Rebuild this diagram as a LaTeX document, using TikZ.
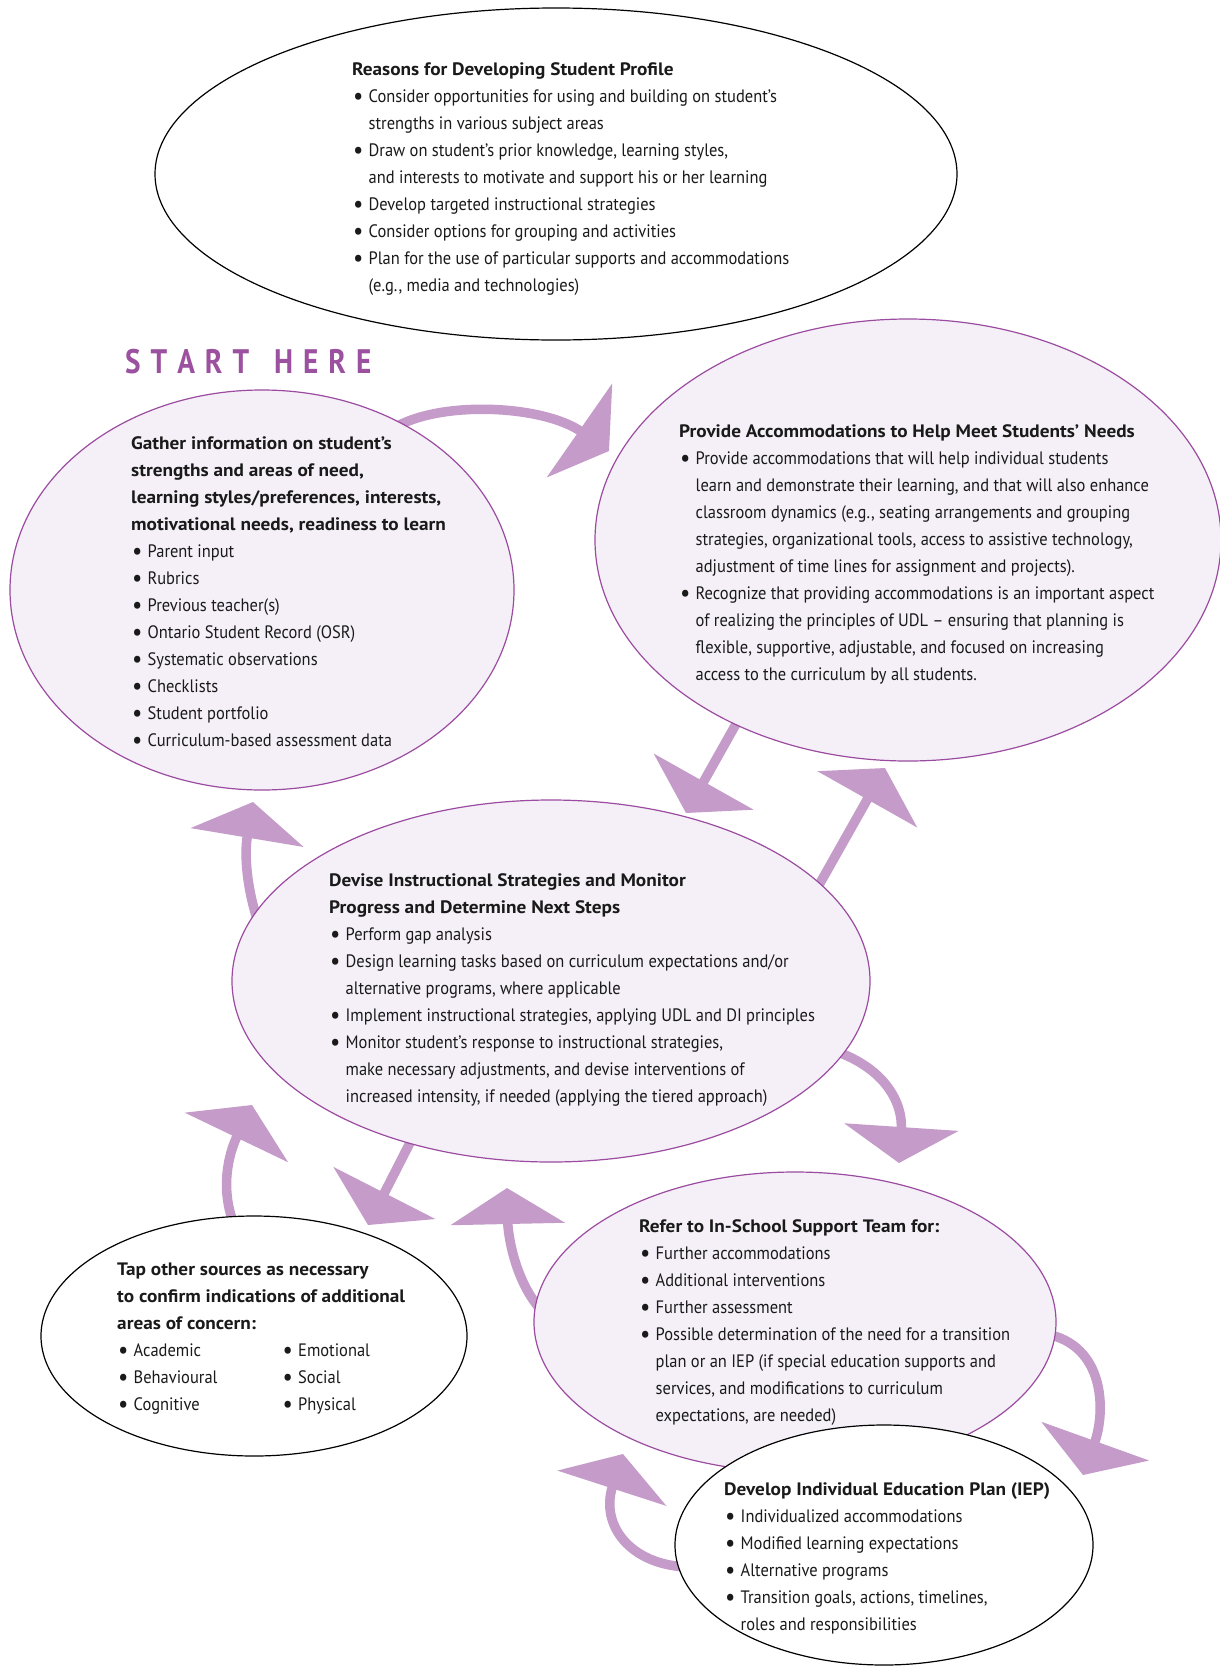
\documentclass[tikz,border=0pt]{standalone}
\usepackage{fontspec}
\setmainfont{PT Sans}[FakeStretch=0.915]
\newfontfamily\hdrfont{PT Sans}[FakeStretch=1.07]
\newfontfamily\startfont{PT Sans}[FakeStretch=0.86]
\usetikzlibrary{shapes.geometric,arrows.meta,backgrounds}
\definecolor{arrowc}{HTML}{C49BC9}
\definecolor{ellfill}{HTML}{F5F0F7}
\definecolor{ellline}{HTML}{9B4BA0}
\definecolor{starthere}{HTML}{9B50A0}
\definecolor{txt}{HTML}{1A1A1A}
\newcommand\bitem{\hspace*{1pt}\makebox[15.5pt][l]{\raisebox{-2.2pt}{\fontsize{25}{25}\selectfont\textbullet}}}
\newcommand\cont{\hspace*{16.5pt}}
\newcommand\fl{\rule{0pt}{20pt}}
\newcommand\hb[1]{{\hdrfont\bfseries #1}}
\tikzset{
  ellA/.style={ellipse, draw=ellline, fill=ellfill, line width=1.2pt, inner sep=0pt},
  ellB/.style={ellipse, draw=black, fill=white, line width=1.2pt, inner sep=0pt},
  txtblk/.style={anchor=north west, inner sep=0pt, align=left, font=\fontsize{18}{27}\selectfont, text=txt},
  arr/.style={draw=arrowc, line width=9.5pt, shorten <=-10pt, -{Triangle[width=113pt,length=36pt]}}
}
\begin{document}
\begin{tikzpicture}[x=1pt,y=-1pt]
\useasboundingbox (0,0) rectangle (1220,1668);

% ellipses
\node[ellB, minimum width=802pt, minimum height=332pt] (reasons) at (556,174) {};
\node[ellA, minimum width=504pt, minimum height=400pt] (gather) at (262,590) {};
\node[ellA, minimum width=626pt, minimum height=442pt] (provide) at (908,540) {};
\node[ellA, minimum width=638pt, minimum height=362pt] (devise) at (551,981) {};
\node[ellB, minimum width=426pt, minimum height=240pt] (tap) at (254,1336) {};
\node[ellA, minimum width=522pt, minimum height=300pt] (refer) at (795,1322) {};
\node[ellB, minimum width=418pt, minimum height=240pt] (iep) at (884,1545) {};

% start here
\node[anchor=base west, inner sep=0pt, text=starthere, font=\fontsize{34}{34}\selectfont\startfont\bfseries] (start) at (125,373)
  {S\kern10pt T\kern10pt A\kern10pt R\kern10pt T\kern25pt H\kern10pt E\kern10pt R\kern10pt E};

% texts
\node[txtblk] (reasonstxt) at (352,55) {\fl\hb{Reasons for Developing Student Profile}\\
\bitem Consider opportunities for using and building on student’s\\
\cont strengths in various subject areas\\
\bitem Draw on student’s prior knowledge, learning styles,\\
\cont and interests to motivate and support his or her learning\\
\bitem Develop targeted instructional strategies\\
\bitem Consider options for grouping and activities\\
\bitem Plan for the use of particular supports and accommodations\\
\cont (e.g., media and technologies)};

\node[txtblk] (gathertxt) at (131,429) {\fl\hb{Gather information on student’s}\\
\hb{strengths and areas of need,}\\
\hb{learning styles/preferences, interests,}\\
\hb{motivational needs, readiness to learn}\\
\bitem Parent input\\
\bitem Rubrics\\
\bitem Previous teacher(s)\\
\bitem Ontario Student Record (OSR)\\
\bitem Systematic observations\\
\bitem Checklists\\
\bitem Student portfolio\\
\bitem Curriculum-based assessment data};

\node[txtblk] (providetxt) at (679,417) {\fl\hb{Provide Accommodations to Help Meet Students’ Needs}\\
\bitem Provide accommodations that will help individual students\\
\cont learn and demonstrate their learning, and that will also enhance\\
\cont classroom dynamics (e.g., seating arrangements and grouping\\
\cont strategies, organizational tools, access to assistive technology,\\
\cont adjustment of time lines for assignment and projects).\\
\bitem Recognize that providing accommodations is an important aspect\\
\cont of realizing the principles of UDL – ensuring that planning is\\
\cont flexible, supportive, adjustable, and focused on increasing\\
\cont access to the curriculum by all students.};

\node[txtblk] (devisetxt) at (329,866) {\fl\hb{Devise Instructional Strategies and Monitor}\\
\hb{Progress and Determine Next Steps}\\
\bitem Perform gap analysis\\
\bitem Design learning tasks based on curriculum expectations and/or\\
\cont alternative programs, where applicable\\
\bitem Implement instructional strategies, applying UDL and DI principles\\
\bitem Monitor student’s response to instructional strategies,\\
\cont make necessary adjustments, and devise interventions of\\
\cont increased intensity, if needed (applying the tiered approach)};

\node[txtblk] (taptxt) at (117,1255) {\fl\hb{Tap other sources as necessary}\\
\hb{to confirm indications of additional}\\
\hb{areas of concern:}\\
\bitem\makebox[148pt][l]{Academic}\bitem Emotional\\
\bitem\makebox[148pt][l]{Behavioural}\bitem Social\\
\bitem\makebox[148pt][l]{Cognitive}\bitem Physical};

\node[txtblk] (refertxt) at (639,1212) {\fl\hb{Refer to In-School Support Team for:}\\
\bitem Further accommodations\\
\bitem Additional interventions\\
\bitem Further assessment\\
\bitem Possible determination of the need for a transition\\
\cont plan or an IEP (if special education supports and\\
\cont services, and modifications to curriculum\\
\cont expectations, are needed)};

\node[txtblk] (ieptxt) at (724,1475) {\fl\hb{Develop Individual Education Plan (IEP)}\\
\bitem Individualized accommodations\\
\bitem Modified learning expectations\\
\bitem Alternative programs\\
\bitem Transition goals, actions, timelines,\\
\cont roles and responsibilities};

% arrow tips
\coordinate (t1) at (609,451);
\coordinate (t2) at (686,813);
\coordinate (t3) at (885,768);
\coordinate (t4) at (253,802);
\coordinate (t5) at (899,1163);
\coordinate (t6) at (252,1105);
\coordinate (t7) at (368,1225);
\coordinate (t8) at (507,1188);
\coordinate (t9) at (1083,1475);
\coordinate (t10) at (623,1454);

\begin{scope}[on background layer]
\fill[white] (0,0) rectangle (1220,1668);
\draw[arr] (gather.50) .. controls (440,400) and (543,405) .. (t1);
\draw[arr] (provide.227) -- (t2);
\draw[arr] (devise.20) -- (t3);
\draw[arr] (devise.167) .. controls (247,888) and (244,856) .. (t4);
\draw[arr] (devise.-14) .. controls (885,1068) and (903,1103) .. (t5);
\draw[arr] (tap.101) .. controls (220,1190) and (228,1155) .. (t6);
\draw[arr] (devise.229) -- (t7);
\draw[arr] (refer.176) .. controls (515,1282) and (508,1235) .. (t8);
\draw[arr] (refer.-3) .. controls (1105,1345) and (1106,1411) .. (t9);
\draw[arr] (iep.186) .. controls (630,1565) and (600,1525) .. (t10);
\end{scope}
\end{tikzpicture}
\end{document}
